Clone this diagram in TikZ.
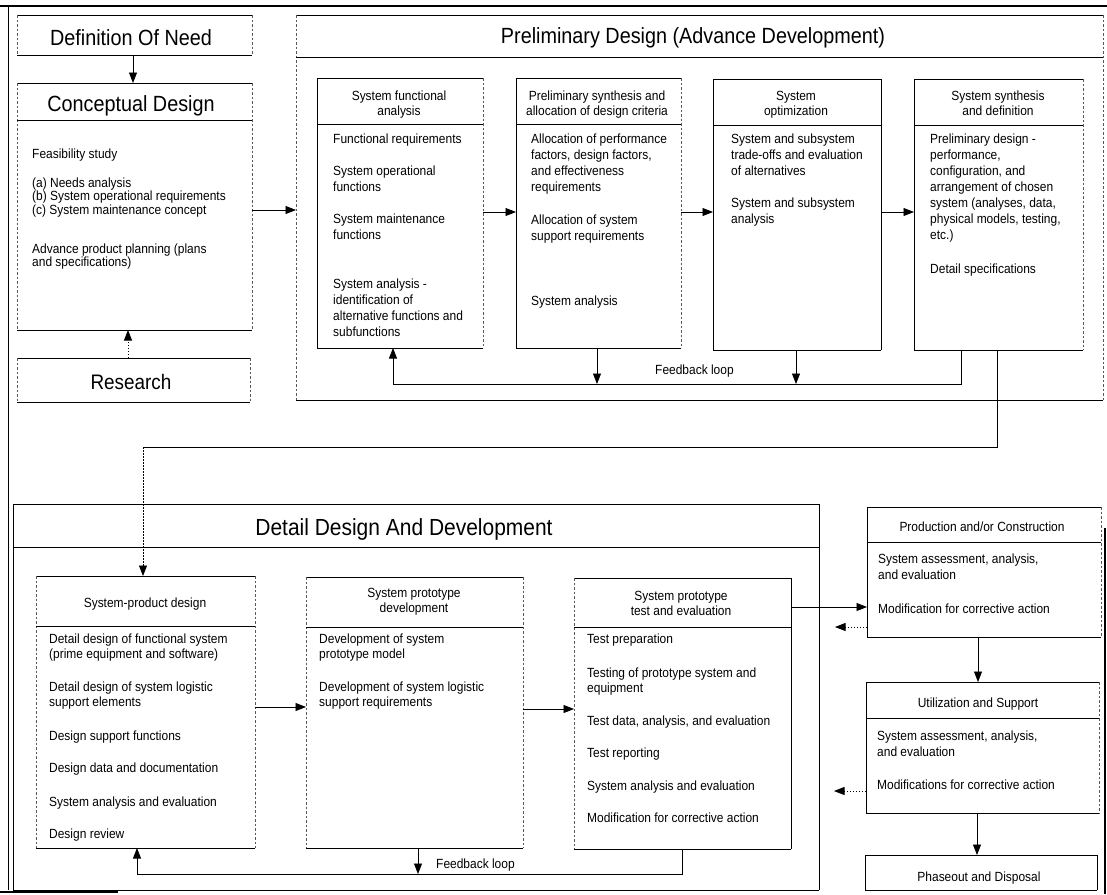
\documentclass[tikz,border=0pt]{standalone}
\usepackage{fontspec}
\setmainfont{Liberation Sans}[FakeStretch=0.9]
\usetikzlibrary{arrows.meta,fit}

% frame of a box: solid top and bottom, chosen styles for the two sides
\newcommand\stageframe[3]{%
  \draw[hedge] (#1.north west) -- (#1.north east);
  \draw[hedge] (#1.south west) -- (#1.south east);
  \draw[#2] (#1.north west) -- (#1.south west);
  \draw[#3] (#1.north east) -- (#1.south east);}
% rule under the heading of a box, at height #2
\newcommand\stagehead[2]{\draw[hedge] (#1.west |- 0,#2) -- (#1.east |- 0,#2);}

% multi-line nodes are placed by the baseline of their last line
\tikzset{
  hedge/.style={line width=1pt, black},
  sside/.style={line width=0.8pt, black},
  fside/.style={line width=0.6pt, black!65, dash pattern=on 2.5pt off 2pt},
  region/.style={inner sep=0pt, outer sep=0pt},
  wire/.style={line width=0.8pt, black},
  conn/.style={wire, -{Triangle[length=10.5pt,width=8pt]}},
  fconn/.style={conn, dash pattern=on 1.5pt off 1.5pt},
  bigtitle/.style={font=\fontsize{22}{26}\selectfont, anchor=base, inner sep=0pt},
  boxtitle/.style={font=\fontsize{13.3}{15}\selectfont, align=center, anchor=base, inner sep=0pt},
  body/.style={font=\fontsize{13.3}{16}\selectfont, align=left, anchor=base west, inner sep=0pt},
  cbody/.style={body, font=\fontsize{13.3}{13.5}\selectfont},
  lbody/.style={body, font=\fontsize{13.3}{15.5}\selectfont},
}

\begin{document}
\begin{tikzpicture}[x=1pt,y=-1pt]
\useasboundingbox (0,0) rectangle (1107,894);

% page edges
\draw[line width=1.8pt] (0,6) -- (1107,6);
\draw[line width=1pt] (8,6) -- (8,890);
\draw[line width=1.6pt] (1105,528) -- (1105,894);
\draw[line width=1.4pt] (0,892) -- (118,892);

% ---------------- left column ----------------
\node[region, fit={(17,15) (252,55)}] (defneed) {};
\stageframe{defneed}{fside}{fside}
\node[bigtitle] (defneedT) at (131,45) {Definition Of Need};

\node[region, fit={(17,83) (252,330)}] (concept) {};
\stageframe{concept}{fside}{fside}
\stagehead{concept}{120}
\node[bigtitle] (conceptT) at (131,111) {Conceptual Design};
\node[cbody] (cfeas) at (32,158) {Feasibility study};
\node[cbody] (cneeds) at (32,214) {(a) Needs analysis\\(b) System operational requirements\\(c) System maintenance concept};
\node[cbody] (cplan) at (32,266.5) {Advance product planning (plans\\and specifications)};

\node[region, fit={(17,358) (250,402)}] (research) {};
\stageframe{research}{fside}{fside}
\node[bigtitle, font=\fontsize{21}{25}\selectfont] (researchT) at (131,389) {Research};

% ---------------- preliminary design ----------------
\node[region, fit={(296,15) (1103,400)}] (prelim) {};
\stageframe{prelim}{fside}{fside}
\stagehead{prelim}{57}
\node[bigtitle] (prelimT) at (693,43) {Preliminary Design (Advance Development)};

\node[region, fit={(317,78) (483,348)}] (sfa) {};
\stageframe{sfa}{sside}{fside}
\stagehead{sfa}{124}
\node[boxtitle] (sfaT) at (399,115) {System functional\\analysis};
\node[body] (sfa1) at (333,143) {Functional requirements};
\node[body] (sfa2) at (333,191) {System operational\\functions};
\node[body] (sfa3) at (333,239) {System maintenance\\functions};
\node[body] (sfa4) at (333,336) {System analysis -\\identification of\\alternative functions and\\subfunctions};

\node[region, fit={(516,78) (681,348)}] (psa) {};
\stageframe{psa}{sside}{fside}
\stagehead{psa}{124}
\node[boxtitle] (psaT) at (597,115) {Preliminary synthesis and\\allocation of design criteria};
\node[body] (psa1) at (531,191) {Allocation of performance\\factors, design factors,\\and effectiveness\\requirements};
\node[body] (psa2) at (531,240) {Allocation of system\\support requirements};
\node[body] (psa3) at (531,305) {System analysis};

\node[region, fit={(713,79) (881,350)}] (sopt) {};
\stageframe{sopt}{sside}{sside}
\stagehead{sopt}{125}
\node[boxtitle] (soptT) at (796,115) {System\\optimization};
\node[body] (sopt1) at (731,175) {System and subsystem\\trade-offs and evaluation\\of alternatives};
\node[body] (sopt2) at (731,223) {System and subsystem\\analysis};

\node[region, fit={(914,79) (1083,350)}] (ssd) {};
\stageframe{ssd}{sside}{fside}
\stagehead{ssd}{125}
\node[boxtitle] (ssdT) at (998,115) {System synthesis\\and definition};
\node[body] (ssd1) at (930,239) {Preliminary design -\\performance,\\configuration, and\\arrangement of chosen\\system (analyses, data,\\physical models, testing,\\etc.)};
\node[body] (ssd2) at (930,273) {Detail specifications};

% ---------------- detail design and development ----------------
\node[region, fit={(13,504) (819,890)}] (detail) {};
\stageframe{detail}{sside}{sside}
\stagehead{detail}{547}
\node[bigtitle, font=\fontsize{23.3}{27}\selectfont] (detailT) at (404,535) {Detail Design And Development};

\node[region, fit={(36,576) (255,848)}] (spd) {};
\stageframe{spd}{fside}{fside}
\stagehead{spd}{626}
\node[boxtitle] (spdT) at (145,607) {System-product design};
\node[lbody] (spd1) at (49,658.5) {Detail design of functional system\\(prime equipment and software)};
\node[lbody] (spd2) at (49,706.5) {Detail design of system logistic\\support elements};
\node[lbody] (spd3) at (49,740) {Design support functions};
\node[lbody] (spd4) at (49,772) {Design data and documentation};
\node[lbody] (spd5) at (49,806) {System analysis and evaluation};
\node[lbody] (spd6) at (49,838) {Design review};

\node[region, fit={(306,577) (523,848)}] (spdev) {};
\stageframe{spdev}{fside}{fside}
\stagehead{spdev}{627}
\node[boxtitle] (spdevT) at (414,612) {System prototype\\development};
\node[lbody] (spdev1) at (319,658.5) {Development of system\\prototype model};
\node[lbody] (spdev2) at (319,706.5) {Development of system logistic\\support requirements};

\node[region, fit={(574,578) (791,849)}] (spte) {};
\stageframe{spte}{fside}{sside}
\stagehead{spte}{627}
\node[boxtitle] (spteT) at (681,615) {System prototype\\test and evaluation};
\node[lbody] (spte1) at (587,643) {Test preparation};
\node[lbody] (spte2) at (587,692.5) {Testing of prototype system and\\equipment};
\node[lbody] (spte3) at (587,725) {Test data, analysis, and evaluation};
\node[lbody] (spte4) at (587,757) {Test reporting};
\node[lbody] (spte5) at (587,790) {System analysis and evaluation};
\node[lbody] (spte6) at (587,822) {Modification for corrective action};

% ---------------- right column ----------------
\node[region, fit={(867,507) (1101,637)}] (prod) {};
\stageframe{prod}{sside}{fside}
\stagehead{prod}{542}
\node[boxtitle] (prodT) at (982,531) {Production and/or Construction};
\node[lbody] (prod1) at (878,579) {System assessment, analysis,\\and evaluation};
\node[lbody] (prod2) at (878,613) {Modification for corrective action};

\node[region, fit={(866,682) (1099,813)}] (util) {};
\stageframe{util}{sside}{fside}
\stagehead{util}{718}
\node[boxtitle] (utilT) at (978,707) {Utilization and Support};
\node[lbody] (util1) at (877,756) {System assessment, analysis,\\and evaluation};
\node[lbody] (util2) at (877,789) {Modifications for corrective action};

\node[region, fit={(865,855) (1097,890)}] (phase) {};
\stageframe{phase}{sside}{sside}
\node[boxtitle] (phaseT) at (979,881) {Phaseout and Disposal};

% ---------------- connectors ----------------
\draw[conn] (defneed.south -| 133,0) -- (concept.north -| 133,0);
\draw[fconn] (research.north -| 128,0) -- (concept.south -| 128,0);
\draw[conn] (concept.east |- 0,210) -- (prelim.west |- 0,210);

\draw[conn] (sfa.east |- 0,212) -- (psa.west |- 0,212);
\draw[conn] (psa.east |- 0,212) -- (sopt.west |- 0,212);
\draw[conn] (sopt.east |- 0,212) -- (ssd.west |- 0,212);

% upper feedback loop
\coordinate (fbL) at (393,384);
\coordinate (fbR) at (961,384);
\coordinate (fbA) at (597,384);
\coordinate (fbB) at (796,384);
\draw[conn] (ssd.south -| fbR) -- (fbR) -- (fbL) -- (sfa.south -| fbL);
\draw[conn] (psa.south -| fbA) -- (fbA);
\draw[conn] (sopt.south -| fbB) -- (fbB);
\node[body] (fbtxt) at (655,374) {Feedback loop};

% link from the preliminary phase into detail design
\coordinate (lnkA) at (997,447);
\coordinate (lnkB) at (143,447);
\draw[wire] (ssd.south -| lnkA) -- (lnkA) -- (lnkB);
\draw[fconn] (lnkB) -- (spd.north -| lnkB);

\draw[conn] (spd.east |- 0,707) -- (spdev.west |- 0,707);
\draw[conn] (spdev.east |- 0,709) -- (spte.west |- 0,709);

% lower feedback loop
\coordinate (bfL) at (137,874);
\coordinate (bfR) at (682,874);
\coordinate (bfA) at (418,874);
\draw[conn] (spte.south -| bfR) -- (bfR) -- (bfL) -- (spd.south -| bfL);
\draw[conn] (spdev.south -| bfA) -- (bfA);
\node[body] (bftxt) at (436,868) {Feedback loop};

% production, utilization, phaseout
\draw[conn] (spte.east |- 0,607) -- (prod.west |- 0,607);
\coordinate (retA) at (835,627);
\coordinate (retB) at (834,791);
\draw[fconn] (prod.west |- retA) -- (retA);
\draw[fconn] (util.west |- retB) -- (retB);
\draw[conn] (prod.south -| 978,0) -- (util.north -| 978,0);
\draw[conn] (util.south -| 977,0) -- (phase.north -| 977,0);
\end{tikzpicture}
\end{document}
